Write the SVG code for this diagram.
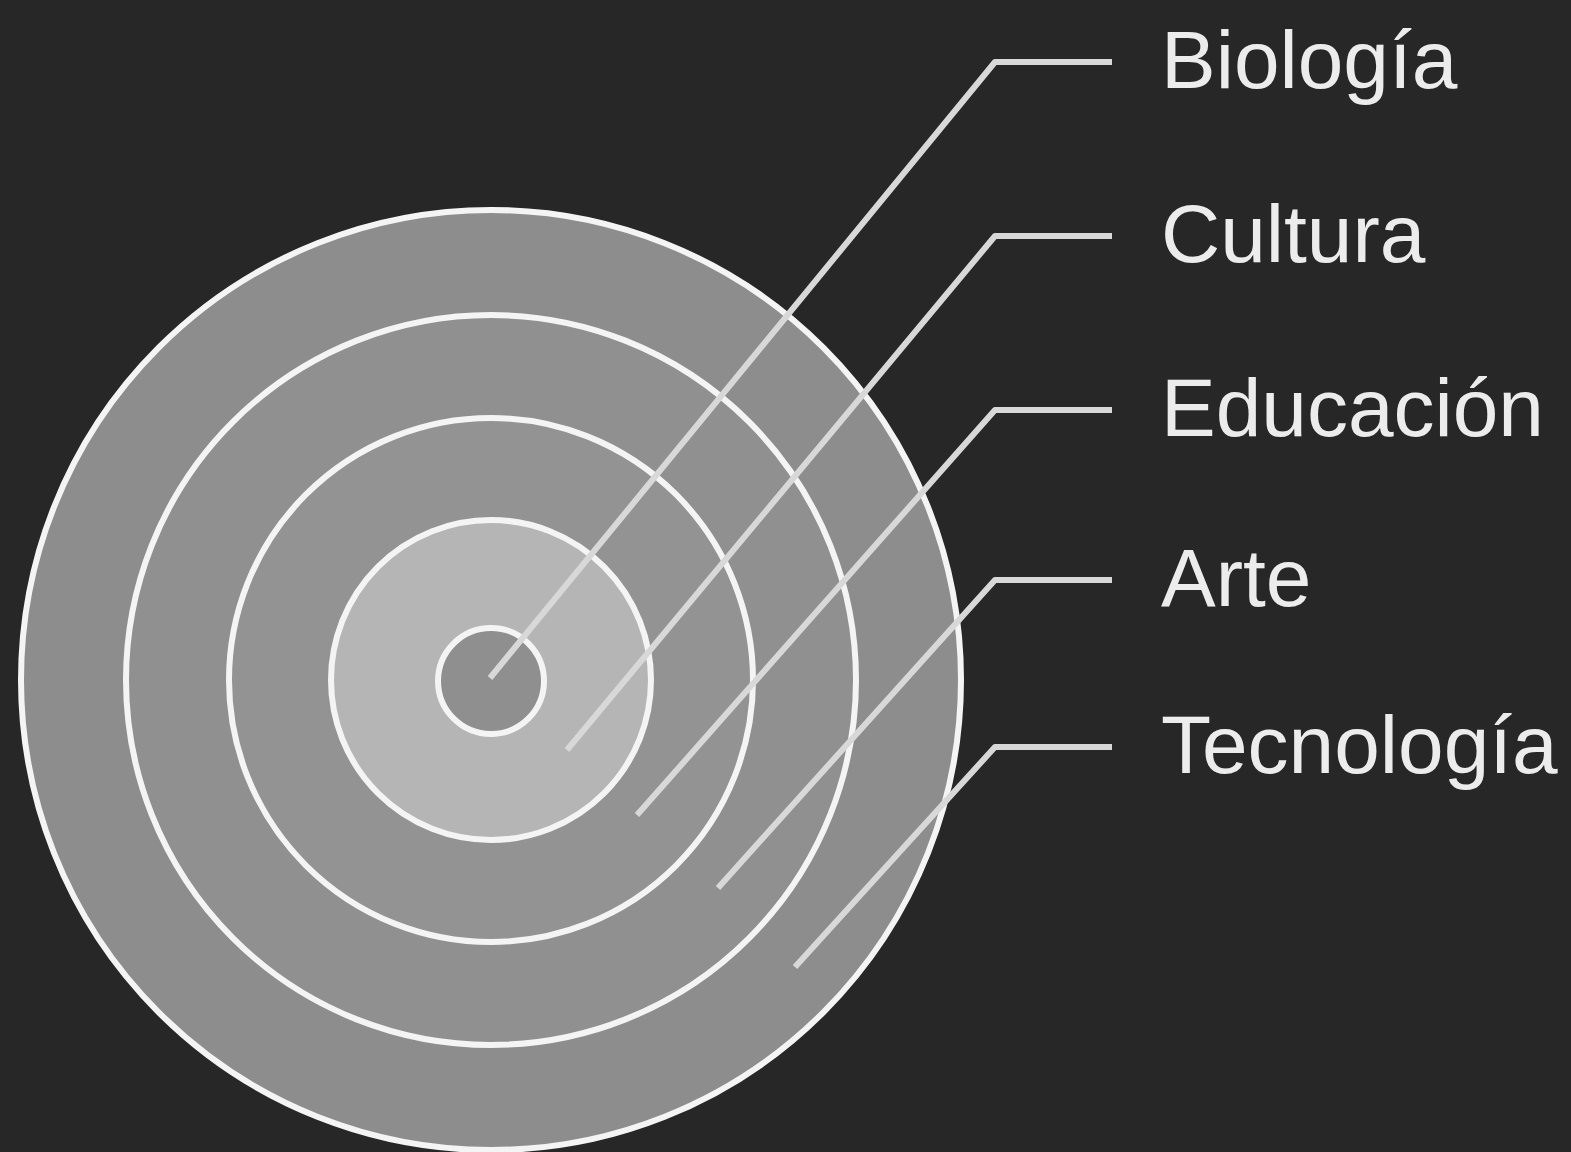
<svg xmlns="http://www.w3.org/2000/svg" width="1571" height="1152" viewBox="0 0 1571 1152">
<style>
.ring{stroke:#f4f4f4;stroke-width:6}
.lead{fill:none;stroke:#d8d8d8;stroke-width:6;stroke-linejoin:round;stroke-linecap:butt}
.lbl{font-family:"Liberation Sans",Arial,sans-serif;font-size:82px;fill:#ececec}
</style>
<rect width="1571" height="1152" fill="#272727"/>
<g id="target">
<circle id="ring-tecnologia" class="ring" cx="491" cy="680" r="470" fill="#8d8d8d"/>
<circle id="ring-arte" class="ring" cx="491" cy="680" r="365" fill="#909090"/>
<circle id="ring-educacion" class="ring" cx="491" cy="680" r="262" fill="#939393"/>
<circle id="ring-cultura" class="ring" cx="491" cy="680" r="160" fill="#b5b5b5"/>
<circle id="ring-biologia" class="ring" cx="491" cy="681" r="53" fill="#8f8f8f"/>
</g>
<g id="connectors">
<polyline class="lead" points="490,678 995,62 1112,62"/>
<polyline class="lead" points="567,750 995,236 1112,236"/>
<polyline class="lead" points="637,815 995,410 1112,410"/>
<polyline class="lead" points="718,888 995,580 1112,580"/>
<polyline class="lead" points="795,967 995,747 1112,747"/>
</g>
<g id="label-biologia"><text class="lbl" x="1161" y="88">Biología</text></g>
<g id="label-cultura"><text class="lbl" x="1161" y="262">Cultura</text></g>
<g id="label-educacion"><text class="lbl" x="1161" y="436">Educación</text></g>
<g id="label-arte"><text class="lbl" x="1161" y="606">Arte</text></g>
<g id="label-tecnologia"><text class="lbl" x="1161" y="773">Tecnología</text></g>
</svg>
